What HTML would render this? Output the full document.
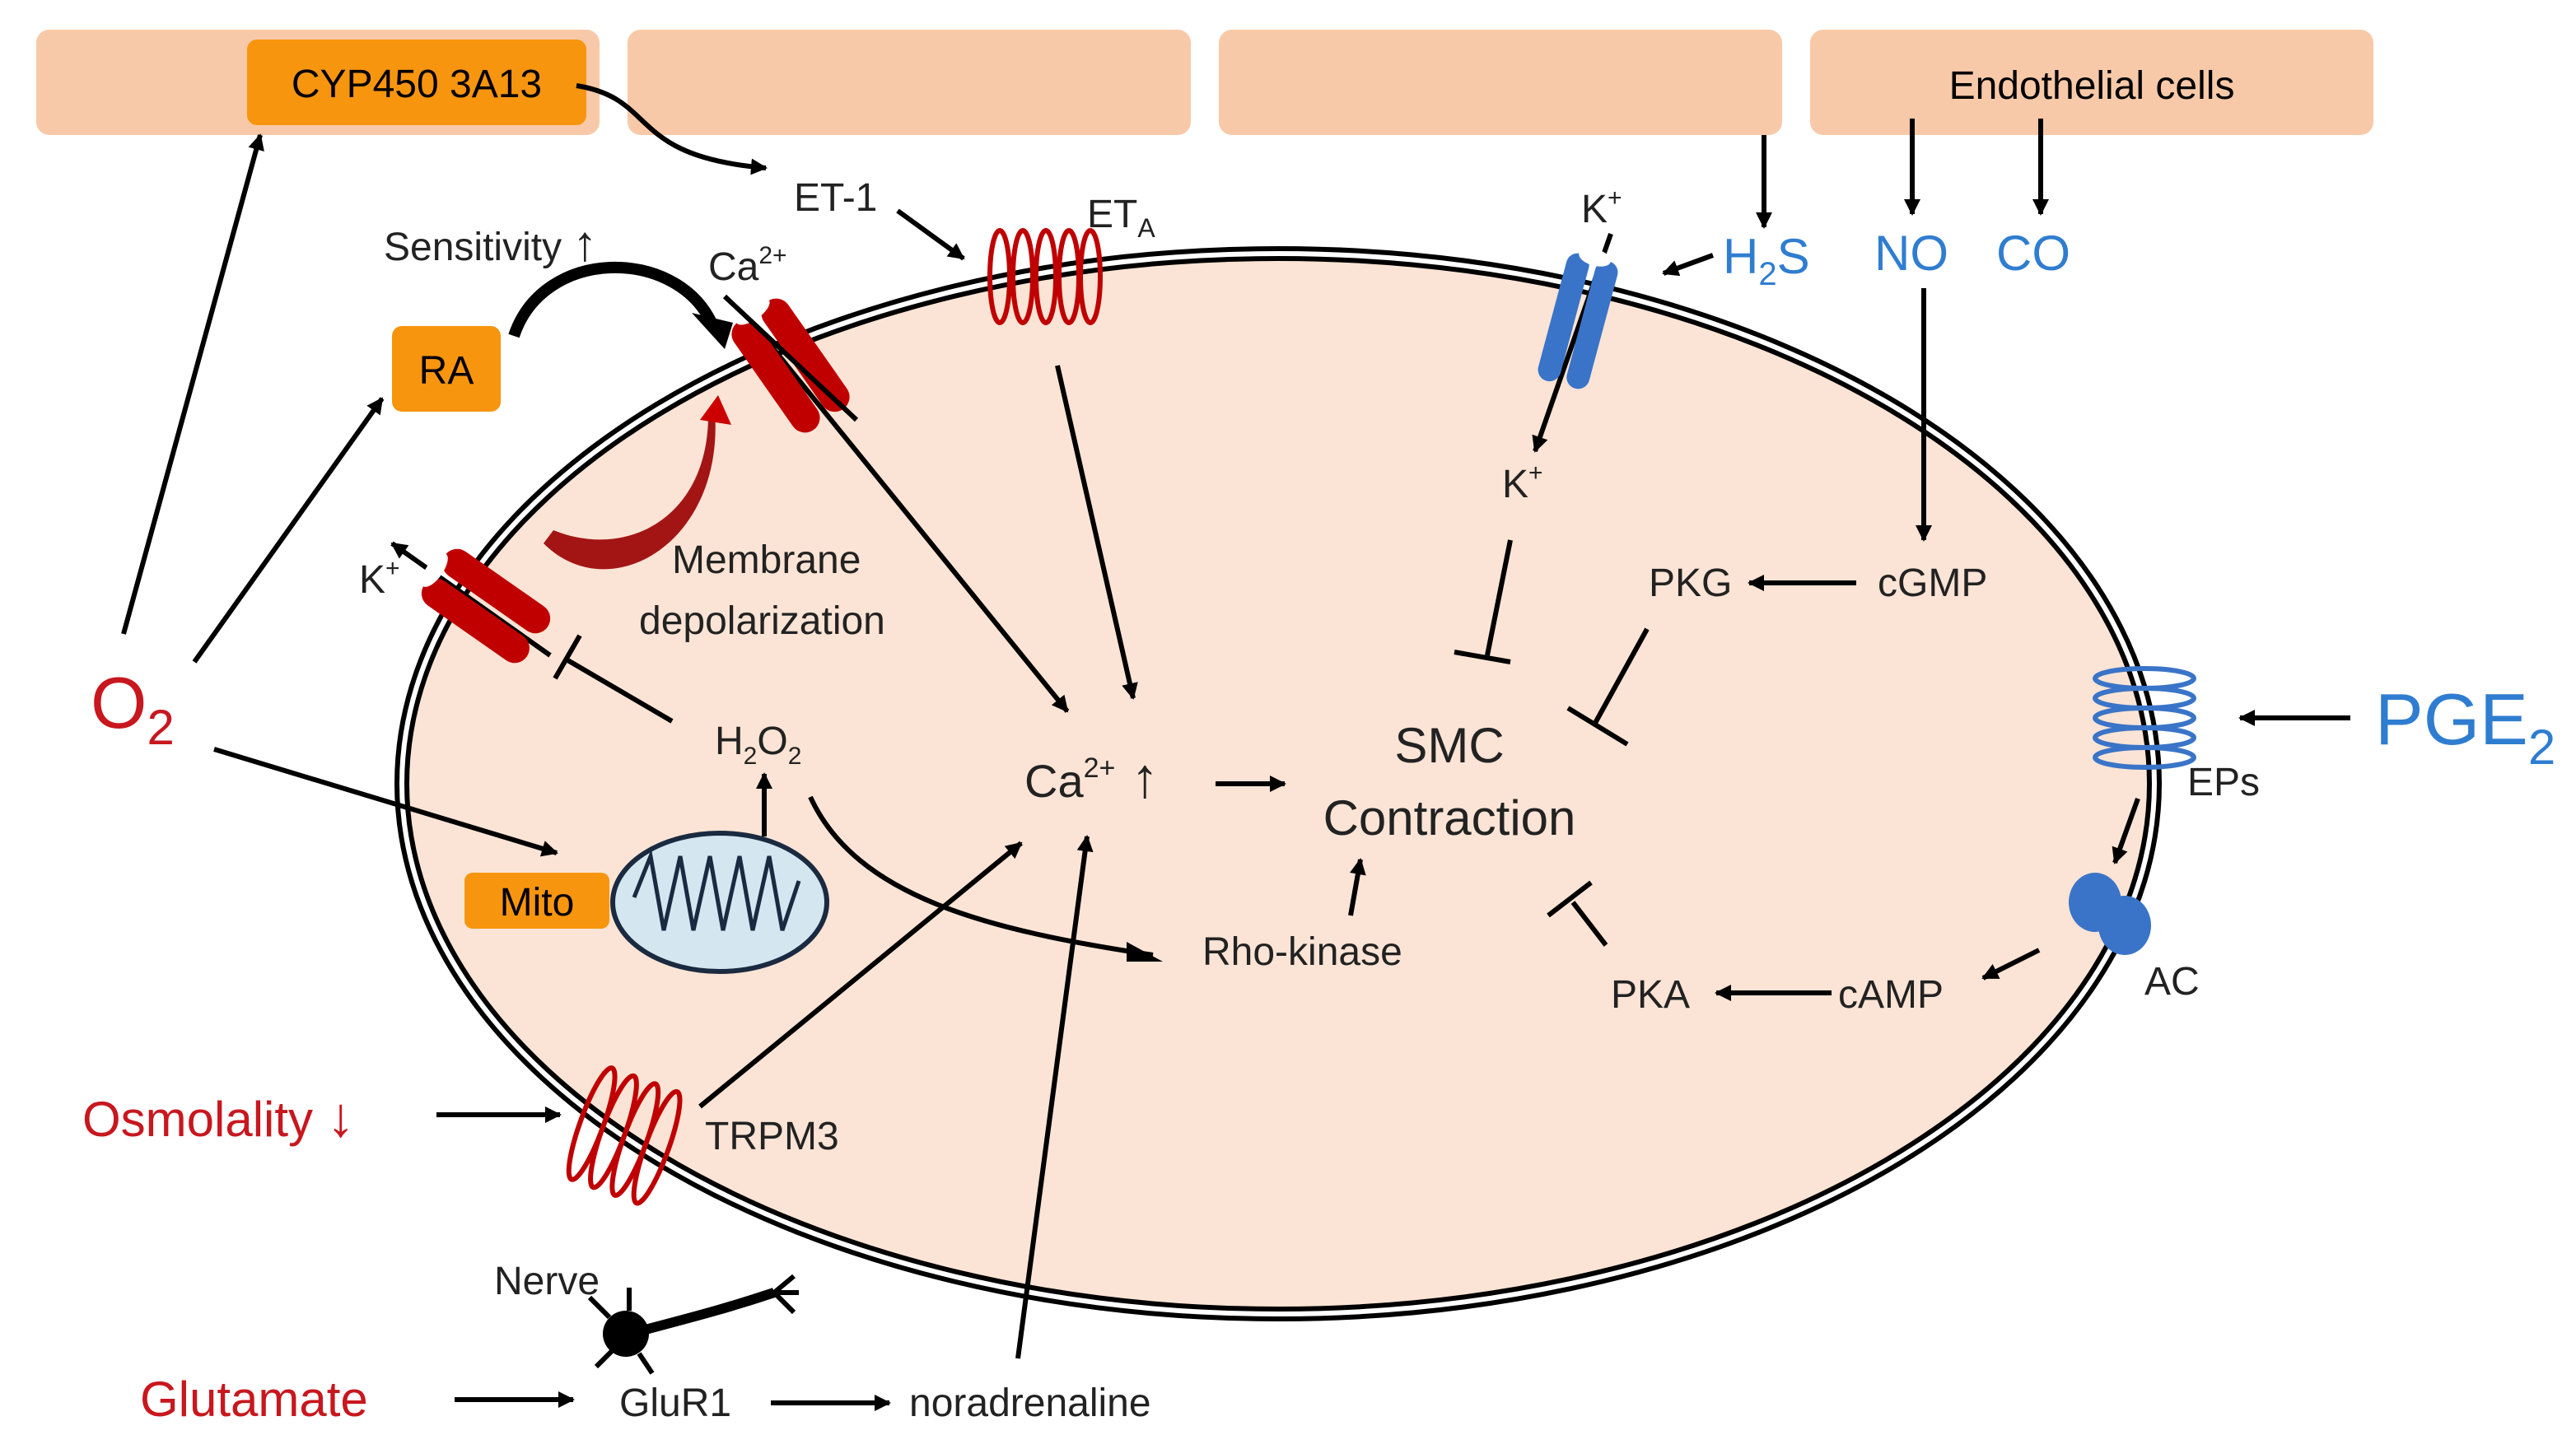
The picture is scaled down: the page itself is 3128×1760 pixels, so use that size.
<!DOCTYPE html>
<html><head><meta charset="utf-8"><style>
html,body{margin:0;padding:0;background:#fff;}
svg{display:block;}
text{font-family:"Liberation Sans",sans-serif;}
</style></head><body>
<svg width="3128" height="1760" viewBox="0 0 1564 880" xmlns="http://www.w3.org/2000/svg">
<defs>
<marker id="a" markerWidth="10" markerHeight="10" refX="9" refY="5" orient="auto" markerUnits="userSpaceOnUse"><path d="M0,0 L10,5 L0,10 z" fill="#000"/></marker>
</defs>
<rect x="22" y="18" width="342" height="64" rx="8" fill="#f8c9a8"/>
<rect x="381" y="18" width="342" height="64" rx="8" fill="#f8c9a8"/>
<rect x="740" y="18" width="342" height="64" rx="8" fill="#f8c9a8"/>
<rect x="1099" y="18" width="342" height="64" rx="8" fill="#f8c9a8"/>
<text x="1270" y="60" font-size="24" text-anchor="middle">Endothelial cells</text>
<rect x="150" y="24" width="206" height="52" rx="6" fill="#f7950f"/>
<text x="253" y="59" font-size="24" text-anchor="middle">CYP450 3A13</text>
<ellipse cx="776" cy="476" rx="532" ry="322" fill="#fbe4d5" stroke="#000" stroke-width="9"/>
<ellipse cx="776" cy="476" rx="532" ry="322" fill="none" stroke="#fff" stroke-width="3"/>
<g stroke="#000" stroke-width="3" fill="none">
<path d="M350,52 C400,60 380,95 465,102" marker-end="url(#a)"/>
<line x1="75" y1="385" x2="158" y2="82" marker-end="url(#a)"/>
<line x1="118" y1="402" x2="232" y2="242" marker-end="url(#a)"/>
<line x1="130" y1="455" x2="338" y2="518" marker-end="url(#a)"/>
<line x1="545" y1="128" x2="585" y2="157" marker-end="url(#a)"/>
<line x1="460" y1="200" x2="648" y2="432" marker-end="url(#a)"/>
<line x1="642" y1="222" x2="688" y2="424" marker-end="url(#a)"/>
<line x1="408" y1="438" x2="343" y2="400"/>
<line x1="337" y1="412" x2="352" y2="386"/>
<line x1="334" y1="398" x2="238" y2="330" marker-end="url(#a)"/>
<line x1="464" y1="508" x2="464" y2="470" marker-end="url(#a)"/>
<path d="M492,484 C520,545 600,565 700,580"/>
<line x1="738" y1="476" x2="780" y2="476" marker-end="url(#a)"/>
<line x1="820" y1="556" x2="826" y2="522" marker-end="url(#a)"/>
<line x1="425" y1="672" x2="620" y2="512" marker-end="url(#a)"/>
<line x1="618" y1="825" x2="660" y2="508" marker-end="url(#a)"/>
<line x1="265" y1="677" x2="340" y2="677" marker-end="url(#a)"/>
<line x1="276" y1="850" x2="348" y2="850" marker-end="url(#a)"/>
<line x1="468" y1="852" x2="540" y2="852" marker-end="url(#a)"/>
<line x1="1071" y1="82" x2="1071" y2="138" marker-end="url(#a)"/>
<line x1="1161" y1="72" x2="1161" y2="130" marker-end="url(#a)"/>
<line x1="1239" y1="72" x2="1239" y2="130" marker-end="url(#a)"/>
<line x1="1040" y1="155" x2="1010" y2="166" marker-end="url(#a)"/>
<line x1="978" y1="142" x2="932" y2="274" marker-end="url(#a)"/>
<line x1="1168" y1="175" x2="1168" y2="328" marker-end="url(#a)"/>
<line x1="1127" y1="354" x2="1062" y2="354" marker-end="url(#a)"/>
<line x1="917" y1="328" x2="903" y2="398"/>
<line x1="883" y1="396" x2="917" y2="402"/>
<line x1="1000" y1="382" x2="968" y2="440"/>
<line x1="952" y1="430" x2="988" y2="452"/>
<line x1="975" y1="574" x2="955" y2="548"/>
<line x1="940" y1="556" x2="966" y2="536"/>
<line x1="1112" y1="603" x2="1042" y2="603" marker-end="url(#a)"/>
<line x1="1238" y1="577" x2="1204" y2="594" marker-end="url(#a)"/>
<line x1="1298" y1="485" x2="1284" y2="524" marker-end="url(#a)"/>
<line x1="1427" y1="436" x2="1360" y2="436" marker-end="url(#a)"/>
</g>
<path d="M684,572 L706,584 L684,584z" fill="#000"/>
<path d="M312,204 C330,150 410,150 432,196" stroke="#000" stroke-width="7" fill="none"/>
<path d="M420,190 L445,196 L440,212 z" fill="#000"/>
<path d="M330,330 C370,370 440,330 434,250 L430,252 C430,315 380,340 336,322z" fill="#a31515"/>
<path d="M425,255 L436,240 L444,258z" fill="#c00"/>
<g transform="translate(480,222) rotate(-35)" fill="#c00000">
<rect x="-20" y="-40" width="18" height="80" rx="9"/><rect x="2" y="-40" width="18" height="80" rx="9"/>
<ellipse cx="0" cy="-40" rx="12" ry="5" fill="#fff"/>
</g>
<line x1="440" y1="180" x2="520" y2="255" stroke="#000" stroke-width="3"/>
<g transform="translate(295,368) rotate(-55)" fill="#c00000">
<rect x="-20" y="-38" width="18" height="76" rx="9"/><rect x="2" y="-38" width="18" height="76" rx="9"/>
<ellipse cx="0" cy="-38" rx="12" ry="5" fill="#fff"/>
</g>
<g transform="translate(958,195) rotate(15)" fill="#3a74c8">
<rect x="-16" y="-40" width="14" height="80" rx="7"/><rect x="2" y="-40" width="14" height="80" rx="7"/>
<ellipse cx="0" cy="-40" rx="10" ry="5" fill="#fff"/>
</g>
<g fill="none" stroke="#c00000" stroke-width="3">
<ellipse cx="607" cy="168" rx="6" ry="28"/><ellipse cx="621" cy="168" rx="6" ry="28"/><ellipse cx="635" cy="168" rx="6" ry="28"/><ellipse cx="649" cy="168" rx="6" ry="28"/><ellipse cx="662" cy="168" rx="6" ry="28"/>
</g>
<g fill="none" stroke="#c00000" stroke-width="3" transform="translate(380,690) rotate(20)">
<ellipse cx="-22" cy="0" rx="7" ry="36"/><ellipse cx="-8" cy="0" rx="7" ry="36"/><ellipse cx="6" cy="0" rx="7" ry="36"/><ellipse cx="20" cy="0" rx="7" ry="36"/>
</g>
<g fill="none" stroke="#3a74c8" stroke-width="3">
<ellipse cx="1302" cy="412" rx="30" ry="6"/><ellipse cx="1302" cy="424" rx="30" ry="6"/><ellipse cx="1302" cy="436" rx="30" ry="6"/><ellipse cx="1302" cy="448" rx="30" ry="6"/><ellipse cx="1302" cy="460" rx="30" ry="6"/>
</g>
<ellipse cx="1272" cy="548" rx="16" ry="18" fill="#3a74c8"/><ellipse cx="1290" cy="562" rx="16" ry="18" fill="#3a74c8"/>
<ellipse cx="437" cy="548" rx="65" ry="42" fill="#d4e6f0" stroke="#1a2a40" stroke-width="3"/>
<path d="M385,545 l10,-25 l8,45 l10,-45 l8,45 l10,-45 l8,45 l10,-45 l8,45 l10,-45 l8,45 l10,-30" fill="none" stroke="#1a2a40" stroke-width="2.5"/>
<circle cx="380" cy="810" r="14" fill="#000"/>
<path d="M390,808 C420,800 440,795 470,785" stroke="#000" stroke-width="6" fill="none"/>
<path d="M470,785 l12,-10 M470,785 l15,0 M470,785 l12,12 M370,800 l-12,-12 M372,820 l-10,10 M388,822 l8,12 M382,796 l0,-14" stroke="#000" stroke-width="3"/>
<rect x="238" y="198" width="66" height="52" rx="6" fill="#f7950f"/>
<text x="271" y="233" font-size="24" text-anchor="middle">RA</text>
<rect x="282" y="530" width="88" height="34" rx="5" fill="#f7950f"/>
<text x="326" y="556" font-size="24" text-anchor="middle">Mito</text>
<g font-size="24" fill="#222">
<text x="482" y="128">ET-1</text>
<text x="660" y="138">ET<tspan font-size="16" dy="6">A</tspan></text>
<text x="233" y="158">Sensitivity <tspan font-size="30">↑</tspan></text>
<text x="430" y="170">Ca<tspan font-size="15" dy="-10">2+</tspan></text>
<text x="218" y="360">K<tspan font-size="15" dy="-10">+</tspan></text>
<text x="408" y="348">Membrane</text>
<text x="388" y="385">depolarization</text>
<text x="434" y="458">H<tspan font-size="15" dy="6">2</tspan><tspan dy="-6">O</tspan><tspan font-size="15" dy="6">2</tspan></text>
<text x="622" y="484" font-size="28">Ca<tspan font-size="17" dy="-12">2+</tspan><tspan dy="12" font-size="34"> ↑</tspan></text>
<text x="880" y="463" font-size="30" text-anchor="middle">SMC</text>
<text x="880" y="507" font-size="30" text-anchor="middle">Contraction</text>
<text x="730" y="586">Rho-kinase</text>
<text x="960" y="135">K<tspan font-size="15" dy="-10">+</tspan></text>
<text x="912" y="302">K<tspan font-size="15" dy="-10">+</tspan></text>
<text x="1001" y="362">PKG</text>
<text x="1140" y="362">cGMP</text>
<text x="978" y="612">PKA</text>
<text x="1116" y="612">cAMP</text>
<text x="1328" y="483">EPs</text>
<text x="1302" y="604">AC</text>
<text x="428" y="698">TRPM3</text>
<text x="300" y="786">Nerve</text>
<text x="376" y="860">GluR1</text>
<text x="552" y="860">noradrenaline</text>
</g>
<g fill="#2f7dd0">
<text x="1046" y="166" font-size="30">H<tspan font-size="20" dy="7">2</tspan><tspan dy="-7">S</tspan></text>
<text x="1138" y="164" font-size="30">NO</text>
<text x="1212" y="164" font-size="30">CO</text>
<text x="1442" y="452" font-size="44">PGE<tspan font-size="30" dy="12">2</tspan></text>
</g>
<g fill="#c8171e">
<text x="55" y="442" font-size="44">O<tspan font-size="30" dy="10">2</tspan></text>
<text x="50" y="690" font-size="30">Osmolality <tspan font-size="34">↓</tspan></text>
<text x="85" y="860" font-size="30">Glutamate</text>
</g>
</svg>
</body></html>
